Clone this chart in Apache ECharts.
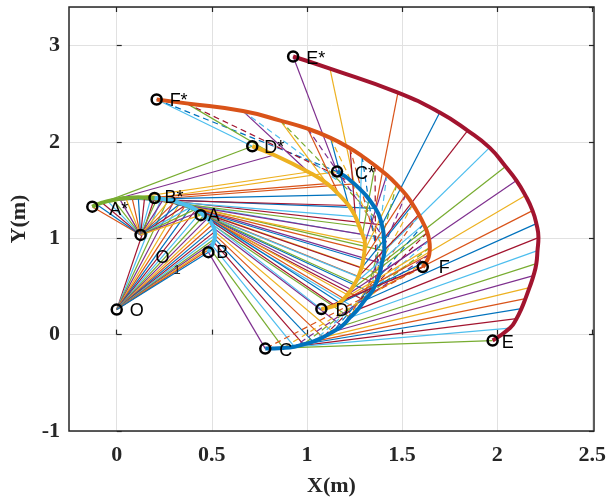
<!DOCTYPE html>
<html><head><meta charset="utf-8">
<script src="https://cdn.jsdelivr.net/npm/echarts@6/dist/echarts.min.js"></script>
<style>html,body{margin:0;padding:0;background:#fff}#c{width:609px;height:504px}</style>
</head><body><div id="c"></div>
<script>
// ---------- data (metres), 21 frames of the mechanism ----------
const O  = [0, 0.26];
const O1 = [0.125, 1.035];
const AX = [-0.128,-0.105,-0.077,-0.048,-0.017,0.015,0.047,0.080,0.113,0.146,0.180,0.212,0.245,0.276,0.306,0.335,0.362,0.388,0.411,0.427,0.440];
const AY = [1.328,1.350,1.369,1.385,1.398,1.409,1.417,1.422,1.425,1.424,1.421,1.415,1.406,1.395,1.381,1.364,1.345,1.323,1.300,1.270,1.240];
const BX = [0.198,0.233,0.267,0.300,0.331,0.361,0.389,0.415,0.438,0.458,0.475,0.490,0.501,0.509,0.514,0.515,0.513,0.508,0.500,0.490,0.480];
const BY = [1.418,1.410,1.398,1.384,1.366,1.346,1.323,1.296,1.269,1.239,1.207,1.174,1.140,1.105,1.069,1.033,0.996,0.961,0.926,0.891,0.856];
const CX = [1.154,1.245,1.355,1.389,1.400,1.402,1.388,1.377,1.357,1.333,1.298,1.262,1.222,1.180,1.132,1.080,1.028,0.978,0.930,0.872,0.778];
const CY = [1.692,1.565,1.310,1.140,1.000,0.870,0.740,0.630,0.530,0.435,0.355,0.260,0.178,0.090,0.030,-0.028,-0.073,-0.100,-0.125,-0.138,-0.145];
const DX = [0.710,0.825,1.004,1.102,1.165,1.215,1.250,1.270,1.287,1.300,1.298,1.291,1.282,1.265,1.248,1.228,1.208,1.190,1.168,1.145,1.072];
const DY = [1.955,1.864,1.688,1.568,1.450,1.340,1.225,1.125,1.041,0.950,0.871,0.775,0.691,0.599,0.533,0.468,0.413,0.373,0.332,0.300,0.265];
const EX = [0.924,1.117,1.473,1.692,1.838,1.953,2.037,2.094,2.141,2.178,2.198,2.209,2.204,2.198,2.183,2.162,2.141,2.120,2.094,2.060,1.969];
const EY = [2.886,2.761,2.512,2.305,2.118,1.941,1.744,1.599,1.443,1.287,1.152,1.007,0.872,0.737,0.612,0.488,0.374,0.270,0.166,0.068,-0.062];
const FX = [0.209,0.366,0.661,0.857,1.000,1.120,1.222,1.285,1.353,1.415,1.467,1.514,1.551,1.582,1.608,1.627,1.637,1.640,1.637,1.624,1.603];
const FY = [2.440,2.400,2.320,2.221,2.137,2.042,1.934,1.853,1.754,1.656,1.557,1.453,1.350,1.246,1.147,1.059,0.976,0.903,0.831,0.763,0.701];
const xTicks = [0, 0.5, 1, 1.5, 2, 2.5];
const yTicks = [-1, 0, 1, 2, 3];

// ---------- styling ----------
const palette = ['#0072BD','#D95319','#EDB120','#7E2F8E','#77AC30','#4DBEEE','#A2142F'];
const P = {A:[AX,AY], B:[BX,BY], C:[CX,CY], D:[DX,DY], E:[EX,EY], F:[FX,FY]};
function pt(n, k) {
  if (n === 'O') return O;
  if (n === 'O1') return O1;
  return [P[n][0][k], P[n][1][k]];
}
const links = [['O','B',6,false],['O1','A',1,false],['B','C',2,false],['C','E',3,false],['A','D',4,false],['D','F',5,false],['F','C',0,true]];
const nFrames = AX.length;
const lineData = [];
for (let k = 0; k < nFrames; k++) {
  links.forEach(([a, b, c, dashed]) => {
    lineData.push({
      coords: [pt(a, k), pt(b, k)],
      lineStyle: {color: palette[((c - k) % 7 + 7) % 7], width: 1.2, opacity: 1, type: dashed ? [6, 4] : 'solid'}
    });
  });
}
const thick = [['A','#77AC30'],['B','#4DBEEE'],['D','#EDB120'],['C','#0072BD'],['F','#D95319'],['E','#A2142F']];
const thickSeries = thick.map(([n, col]) => ({
  type: 'line', data: P[n][0].map((x, i) => [x, P[n][1][i]]),
  showSymbol: false, smooth: true, lineStyle: {color: col, width: 4}, z: 3, silent: true
}));

const labelOffset = {
  'O':[13,1], 'A*':[17,3], 'A':[7,1], 'B*':[10,0], 'B':[8,1], 'C*':[18,2], 'C':[14,2],
  'D*':[12,2], 'D':[14,2], 'E*':[13,3], 'E':[9,2], 'F*':[13,2], 'F':[16,1], 'O1':[15,23]
};
const markers = [
  ['O', O], ['O1', O1],
  ['A*', pt('A',0)], ['A', pt('A',nFrames-1)],
  ['B*', pt('B',0)], ['B', pt('B',nFrames-1)],
  ['C*', pt('C',0)], ['C', pt('C',nFrames-1)],
  ['D*', pt('D',0)], ['D', pt('D',nFrames-1)],
  ['E*', pt('E',0)], ['E', pt('E',nFrames-1)],
  ['F*', pt('F',0)], ['F', pt('F',nFrames-1)]
];
const labelFont = {fontFamily: '"Liberation Sans", Arial, sans-serif', fontSize: 18, color: '#000'};
const markerData = markers.map(([n, v]) => ({
  name: n, value: v,
  label: Object.assign({show: true, position: 'inside', align: 'left', verticalAlign: 'middle',
    offset: labelOffset[n], formatter: n === 'O1' ? 'O' : n}, labelFont)
}));

const axisFont = {fontFamily: '"Liberation Serif", "Times New Roman", serif', fontWeight: 'bold', fontSize: 22, color: '#262626'};
const tickStyle = {inside: true, length: 5, lineStyle: {color: '#262626', width: 1.2}};

const chart = echarts.init(document.getElementById('c'), null, {renderer: 'canvas'});
chart.setOption({
  animation: false,
  backgroundColor: '#fff',
  grid: [
    {left: 69, right: 15, top: 7, bottom: 73, show: true, borderColor: '#262626', borderWidth: 1.5, backgroundColor: 'transparent', z: 10},
    {left: 69 + 525 * (0 - (-0.25)) / 2.75, right: 15, top: 7, bottom: 73}
  ],
  xAxis: [
    {gridIndex: 0, type: 'value', min: -0.25, max: 2.5, axisLine: {show: false}, axisTick: {show: false},
     axisLabel: {show: false}, splitLine: {show: false},
     name: 'X(m)', nameLocation: 'middle', nameGap: 44, nameTextStyle: axisFont},
    {gridIndex: 1, type: 'value', min: xTicks[0], max: xTicks[xTicks.length-1], interval: xTicks[1]-xTicks[0], position: 'bottom',
     axisLine: {show: false}, axisTick: tickStyle,
     axisLabel: Object.assign({margin: 13}, axisFont),
     splitLine: {show: true, lineStyle: {color: '#e1e1e1', width: 1}}},
    {gridIndex: 1, type: 'value', min: xTicks[0], max: xTicks[xTicks.length-1], interval: xTicks[1]-xTicks[0], position: 'top',
     axisLine: {show: false}, axisTick: tickStyle, axisLabel: {show: false}, splitLine: {show: false}}
  ],
  yAxis: [
    {gridIndex: 0, type: 'value', min: yTicks[0], max: 3.4, interval: yTicks[1]-yTicks[0],
     axisLine: {show: false}, axisTick: tickStyle,
     axisLabel: Object.assign({margin: 9, showMaxLabel: false}, axisFont),
     splitLine: {show: true, lineStyle: {color: '#e1e1e1', width: 1}},
     name: 'Y(m)', nameLocation: 'middle', nameRotate: 90, nameGap: 37, nameTextStyle: axisFont},
    {gridIndex: 0, type: 'value', min: yTicks[0], max: 3.4, interval: yTicks[1]-yTicks[0], position: 'right',
     axisLine: {show: false}, axisTick: tickStyle, axisLabel: {show: false}, splitLine: {show: false}},
    {gridIndex: 1, type: 'value', min: yTicks[0], max: 3.4, show: false}
  ],
  series: [
    {type: 'lines', coordinateSystem: 'cartesian2d', xAxisIndex: 0, yAxisIndex: 0, data: lineData, z: 2, silent: true,
     lineStyle: {opacity: 1, width: 1.2}},
    ...thickSeries,
    {type: 'scatter', xAxisIndex: 0, yAxisIndex: 0, data: markerData, symbol: 'circle', symbolSize: 10,
     itemStyle: {color: 'rgba(0,0,0,0)', borderColor: '#000', borderWidth: 2.5, opacity: 1}, z: 5, silent: true},
    {type: 'scatter', xAxisIndex: 0, yAxisIndex: 0, data: [{name: 'sub', value: O1}], symbolSize: 1,
     itemStyle: {color: 'rgba(0,0,0,0)'}, z: 5, silent: true,
     label: Object.assign({show: true, position: 'inside', align: 'left', verticalAlign: 'middle', offset: [33, 36], formatter: '1'}, labelFont, {fontSize: 13})}
  ]
});
</script></body></html>
